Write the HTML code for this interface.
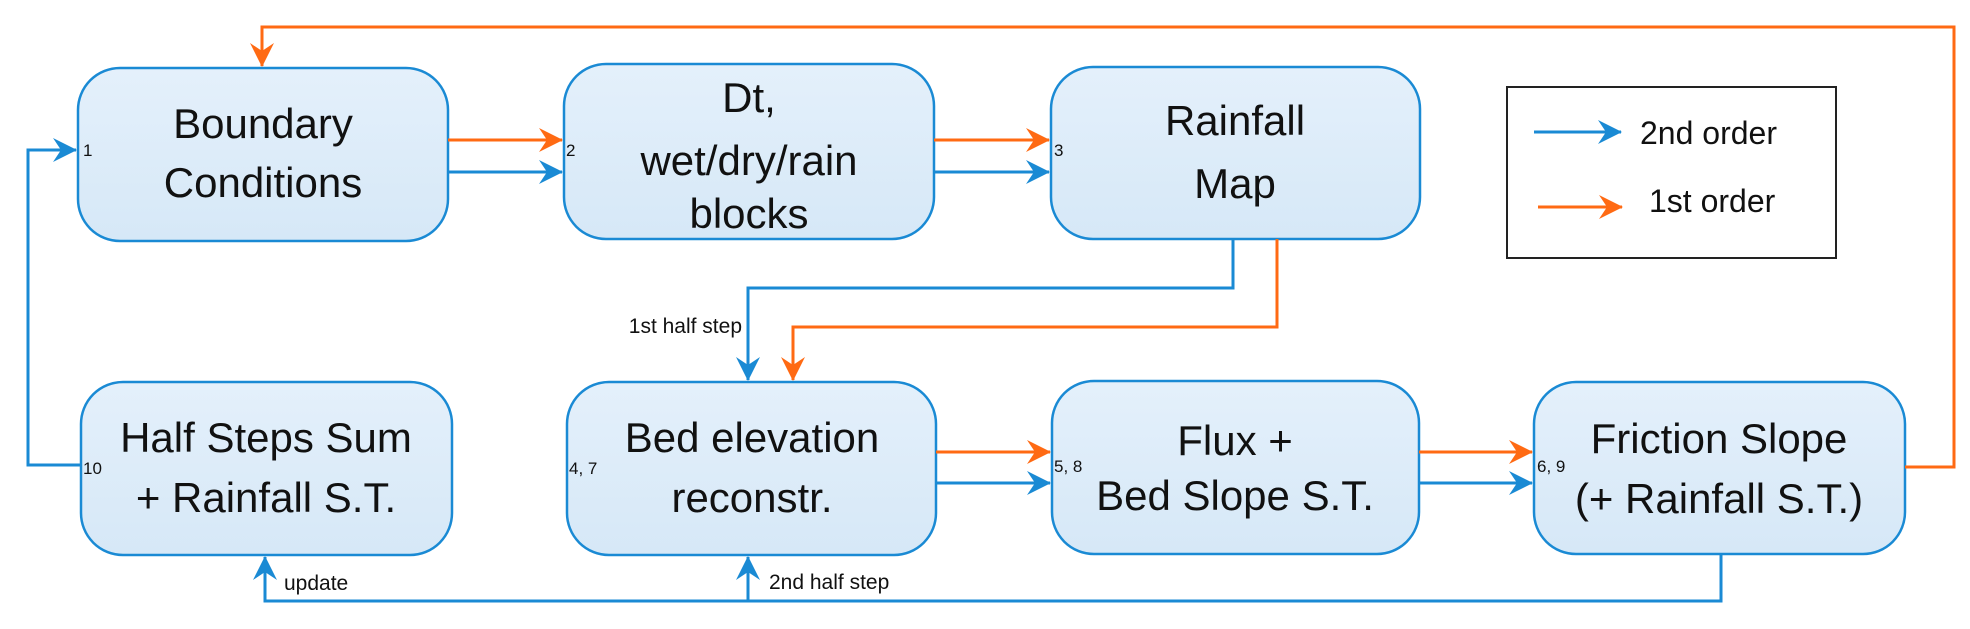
<!DOCTYPE html>
<html><head><meta charset="utf-8"><style>
html,body{margin:0;padding:0;background:#fff;}
svg{display:block;}
text{font-family:"Liberation Sans",sans-serif;fill:#111;}
.big{font-size:42px;text-anchor:middle;}
.num{font-size:17px;}
.lab{font-size:21px;}
</style></head><body>
<svg width="1970" height="629" viewBox="0 0 1970 629" xmlns="http://www.w3.org/2000/svg">
<defs>
<linearGradient id="g" x1="0" y1="0" x2="0" y2="1"><stop offset="0" stop-color="#e4f0fb"/><stop offset="1" stop-color="#d6e8f7"/></linearGradient>
<marker id="ab" viewBox="0 0 24 24" refX="23" refY="12" markerWidth="24" markerHeight="24" markerUnits="userSpaceOnUse" orient="auto"><path d="M0,0 L24,12 L0,24 L8,12 Z" fill="#1a8ad4"/></marker>
<marker id="ao" viewBox="0 0 24 24" refX="23" refY="12" markerWidth="24" markerHeight="24" markerUnits="userSpaceOnUse" orient="auto"><path d="M0,0 L24,12 L0,24 L8,12 Z" fill="#ff6a13"/></marker>
</defs>
<g fill="url(#g)" stroke="#1a8ad4" stroke-width="2.5">
<rect x="78" y="68" width="370" height="173" rx="42"/>
<rect x="564" y="64" width="370" height="175" rx="42"/>
<rect x="1051" y="67" width="369" height="172" rx="42"/>
<rect x="81" y="382" width="371" height="173" rx="42"/>
<rect x="567" y="382" width="369" height="173" rx="42"/>
<rect x="1052" y="381" width="367" height="173" rx="42"/>
<rect x="1534" y="382" width="371" height="172" rx="42"/>
</g>
<rect x="1507" y="87" width="329" height="171" fill="none" stroke="#222" stroke-width="2"/>
<g fill="none" stroke-width="3">
<path d="M1905,467 H1954 V27 H262 V66" stroke="#ff6a13" marker-end="url(#ao)"/>
<path d="M448,140 H562" stroke="#ff6a13" marker-end="url(#ao)"/>
<path d="M934,140 H1049" stroke="#ff6a13" marker-end="url(#ao)"/>
<path d="M1277,239 V327 H793 V380" stroke="#ff6a13" marker-end="url(#ao)"/>
<path d="M936,452 H1050" stroke="#ff6a13" marker-end="url(#ao)"/>
<path d="M1419,452 H1532" stroke="#ff6a13" marker-end="url(#ao)"/>
<path d="M1538,207 H1622" stroke="#ff6a13" marker-end="url(#ao)"/>
<path d="M448,172 H562" stroke="#1a8ad4" marker-end="url(#ab)"/>
<path d="M934,172 H1049" stroke="#1a8ad4" marker-end="url(#ab)"/>
<path d="M1233,239 V288 H748 V380" stroke="#1a8ad4" marker-end="url(#ab)"/>
<path d="M936,483 H1050" stroke="#1a8ad4" marker-end="url(#ab)"/>
<path d="M1419,483 H1532" stroke="#1a8ad4" marker-end="url(#ab)"/>
<path d="M81,465 H28 V150 H76" stroke="#1a8ad4" marker-end="url(#ab)"/>
<path d="M1721,554 V601 H265 V557" stroke="#1a8ad4" marker-end="url(#ab)"/>
<path d="M748,601 V557" stroke="#1a8ad4" marker-end="url(#ab)"/>
<path d="M1534,132 H1621" stroke="#1a8ad4" marker-end="url(#ab)"/>
</g>
<text class="big" x="263" y="138">Boundary</text>
<text class="big" x="263" y="197">Conditions</text>
<text class="big" x="749" y="112">Dt,</text>
<text class="big" x="749" y="175">wet/dry/rain</text>
<text class="big" x="749" y="228">blocks</text>
<text class="big" x="1235" y="135">Rainfall</text>
<text class="big" x="1235" y="198">Map</text>
<text class="big" x="266" y="452">Half Steps Sum</text>
<text class="big" x="266" y="512">+ Rainfall S.T.</text>
<text class="big" x="752" y="452">Bed elevation</text>
<text class="big" x="752" y="512">reconstr.</text>
<text class="big" x="1235" y="455">Flux +</text>
<text class="big" x="1235" y="510">Bed Slope S.T.</text>
<text class="big" x="1719" y="453">Friction Slope</text>
<text class="big" x="1719" y="513">(+ Rainfall S.T.)</text>
<text class="num" x="83" y="156">1</text>
<text class="num" x="566" y="156">2</text>
<text class="num" x="1054" y="156">3</text>
<text class="num" x="83" y="474">10</text>
<text class="num" x="569" y="474">4, 7</text>
<text class="num" x="1054" y="472">5, 8</text>
<text class="num" x="1537" y="472">6, 9</text>
<text class="lab" x="742" y="333" text-anchor="end">1st half step</text>
<text class="lab" x="284" y="590">update</text>
<text class="lab" x="769" y="589">2nd half step</text>
<text x="1640" y="144" font-size="32">2nd order</text>
<text x="1649" y="212" font-size="32">1st order</text>
</svg>
</body></html>
